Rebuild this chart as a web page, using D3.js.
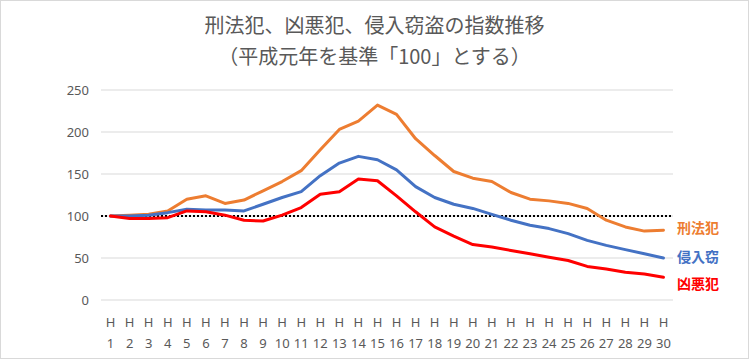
<!DOCTYPE html>
<html><head><meta charset="utf-8">
<script src="https://cdn.jsdelivr.net/npm/d3@7/dist/d3.min.js"></script>
<style>body{margin:0;background:#fff}svg{display:block}text{font-family:"Noto Sans CJK JP","Noto Sans",sans-serif}</style>
</head><body><svg id="c" width="749" height="360"></svg>
<script>
const categories = d3.range(1, 31).map(d => "H" + d);
const keihouhan = [100,101,102,106,120,124,115,119,130,141,154,179,203,213,232,221,192,172,153,145,141,128,120,118,115,109,95,87,82,83];
const shinnyuu  = [100,100,101,104,108,107,107,106,114,122,129,148,163,171,167,155,135,122,114,109,102,95,89,85,79,71,65,60,55,50];
const kyouaku   = [100,97,97,98,106,105,101,95,94,101,110,126,129,144,142,124,105,87,76,66,63,59,55,51,47,40,37,33,31,27];
const yTicks = [0,50,100,150,200,250];
const seriesNames = ["刑法犯","侵入窃","凶悪犯"];
const titleLines = ["刑法犯、凶悪犯、侵入窃盗の指数推移","（平成元年を基準「100」とする）"];

const svg = d3.select("#c");
svg.append("rect").attr("x",0.5).attr("y",0.5).attr("width",748).attr("height",358)
  .attr("fill","#fff").attr("stroke","#d9d9d9");

const x = d3.scaleBand().domain(categories).range([101,673]);
const y = d3.scaleLinear().domain([0,250]).range([300,90]);
const cx = d => x(d) + x.bandwidth()/2;

// grid
svg.append("g").selectAll("line").data(yTicks).join("line")
  .attr("x1",101).attr("x2",673).attr("y1",d=>y(d)).attr("y2",d=>y(d))
  .attr("stroke","#d9d9d9").attr("stroke-width",1);

// y axis labels
const ya = svg.append("g").attr("transform","translate(89,0)")
  .call(d3.axisLeft(y).tickValues(yTicks).tickSize(0).tickPadding(0));
ya.select(".domain").remove();
ya.selectAll("text").attr("fill","#595959").style("font-size","13px")
  .style("font-family","'Noto Sans','Noto Sans CJK JP',sans-serif");

// x axis labels (two lines)
const xa = svg.append("g").attr("transform","translate(0,300)")
  .call(d3.axisBottom(x).tickSize(0).tickFormat(""));
xa.select(".domain").remove();
xa.selectAll(".tick").each(function(d){
  const t = d3.select(this).append("text").attr("fill","#595959")
    .attr("text-anchor","middle").style("font-size","13px")
    .style("font-family","'Noto Sans','Noto Sans CJK JP',sans-serif");
  t.append("tspan").attr("x",0).attr("y",27).text("H");
  t.append("tspan").attr("x",0).attr("y",48).text(d.slice(1));
});

// baseline dotted at 100
svg.append("line").attr("x1",101).attr("x2",673).attr("y1",y(100)).attr("y2",y(100))
  .attr("stroke","#000").attr("stroke-width",2).attr("stroke-dasharray","2,2");

const line = d3.line().x((d,i)=>cx(categories[i])).y(d=>y(d));
const series = [
  {vals:keihouhan, color:"#ED7D31", name:seriesNames[0], ly:229},
  {vals:shinnyuu, color:"#4472C4", name:seriesNames[1], ly:258},
  {vals:kyouaku, color:"#FF0000", name:seriesNames[2], ly:285}
];
series.forEach(s=>{
  svg.append("path").datum(s.vals).attr("d",line).attr("fill","none")
    .attr("stroke",s.color).attr("stroke-width",3).attr("stroke-linejoin","round").attr("stroke-linecap","round");
  svg.append("text").attr("x",677).attr("y",s.ly).attr("dominant-baseline","middle")
    .attr("fill",s.color).style("font-size","14px").style("font-weight","bold").text(s.name);
});

// title
svg.append("g").selectAll("text").data(titleLines).join("text")
  .attr("x",374.5).attr("y",(d,i)=>28+i*31).attr("text-anchor","middle").attr("dominant-baseline","middle")
  .attr("fill","#595959").style("font-size","20px").text(d=>d);
</script></body></html>
